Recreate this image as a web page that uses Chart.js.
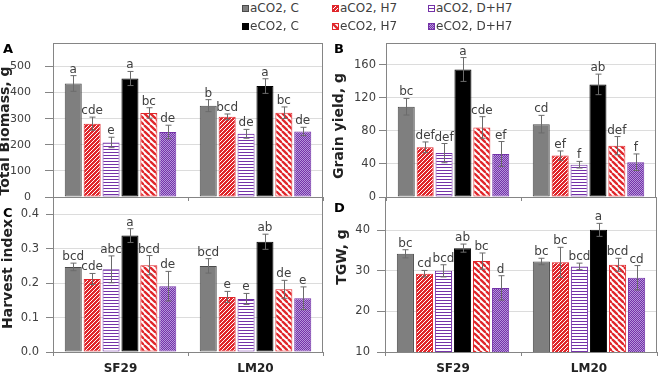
<!DOCTYPE html>
<html>
<head>
<meta charset="utf-8">
<script src="https://cdn.jsdelivr.net/npm/chart.js@4.4.0/dist/chart.umd.min.js"></script>
<style>
    body { margin: 0; background: #fff; }
    #wrap { position: relative; width: 660px; height: 375px; overflow: hidden; font-family: 'DejaVu Sans', sans-serif; color: #404040; }
    canvas.panel { position: absolute; }
    .lg { position: absolute; font-size: 12px; line-height: 14px; white-space: nowrap; }
    .sw { position: absolute; }
    .pl { position: absolute; font-weight: bold; font-size: 13px; line-height: 15px; color: #000; }
</style>
</head>
<body>
<div id="wrap">
    <canvas id="chartA" class="panel"></canvas>
    <canvas id="chartB" class="panel"></canvas>
    <canvas id="chartC" class="panel"></canvas>
    <canvas id="chartD" class="panel"></canvas>
    <div id="legend"></div>
</div>
<script>
const categories = ['SF29', 'LM20'];
const seriesNames = ['aCO2, C', 'aCO2, H7', 'aCO2, D+H7', 'eCO2, C', 'eCO2, H7', 'eCO2, D+H7'];

// one row per series: [SF29, LM20]
const biomassMean = [[435, 350], [281, 307], [209, 242], [454, 425], [322, 323], [249, 251]];
const biomassErr = [[30, 23], [25, 11], [20, 17], [27, 28], [20, 22], [26, 16]];
const biomassLetters = [['a', 'b'], ['cde', 'bcd'], ['e', 'de'], ['a', 'a'], ['bc', 'bc'], ['de', 'de']];
const biomassTicks = [0, 100, 200, 300, 400, 500];

const grainMean = [[109, 88], [60, 50], [53, 39], [154, 136], [84, 62], [52, 42]];
const grainErr = [[10, 10.6], [6.5, 5.6], [11.6, 4], [14.4, 12.4], [13, 11], [15, 10]];
const grainLetters = [['bc', 'cd'], ['def', 'ef'], ['def', 'f'], ['a', 'ab'], ['cde', 'def'], ['ef', 'f']];
const grainTicks = [0, 40, 80, 120, 160];

const hiMean = [[0.247, 0.250], [0.212, 0.160], [0.240, 0.154], [0.338, 0.320], [0.252, 0.182], [0.191, 0.156]];
const hiErr = [[0.011, 0.021], [0.016, 0.016], [0.039, 0.016], [0.020, 0.022], [0.028, 0.026], [0.043, 0.033]];
const hiLetters = [['bcd', 'bcd'], ['cde', 'e'], ['abc', 'e'], ['a', 'ab'], ['bcd', 'de'], ['de', 'e']];
const hiTicks = [0, 0.1, 0.2, 0.3, 0.4];

const tgwMean = [[34.2, 32.3], [29.3, 32.1], [30.0, 31.1], [35.6, 40.1], [32.4, 31.5], [25.8, 28.3]];
const tgwErr = [[1, 0.8], [0.8, 3.7], [1.5, 0.8], [1, 1.6], [2, 1.6], [3, 3]];
const tgwLetters = [['bc', 'bc'], ['cd', 'bc'], ['bcd', 'bcd'], ['ab', 'a'], ['bc', 'bcd'], ['d', 'cd']];
const tgwTicks = [10, 20, 30, 40];

const RED = '#e0262b';
const PURPLE = '#7432a8';

function makePattern(size, draw) {
    const c = document.createElement('canvas');
    c.width = c.height = size;
    const g = c.getContext('2d');
    draw(g, size);
    return g.createPattern(c, 'repeat');
}

const fills = [
    '#7f7f7f',
    makePattern(4, (g) => {
        g.fillStyle = RED; g.fillRect(0, 0, 4, 4);
        g.fillStyle = '#fff';
        [[0, 0], [2, 2], [1, 3], [3, 1]].forEach(p => g.fillRect(p[0], p[1], 1, 1));
    }),
    makePattern(3, (g) => {
        g.fillStyle = '#fff'; g.fillRect(0, 0, 3, 3);
        g.fillStyle = PURPLE; g.fillRect(0, 0, 3, 1);
    }),
    '#000000',
    makePattern(6, (g, s) => {
        g.fillStyle = '#fff'; g.fillRect(0, 0, s, s);
        g.strokeStyle = RED; g.lineWidth = 2.3;
        [-s, 0, s].forEach(o => { g.beginPath(); g.moveTo(o, 0); g.lineTo(o + s, s); g.stroke(); });
    }),
    makePattern(2, (g) => {
        g.fillStyle = '#b596da'; g.fillRect(0, 0, 2, 2);
        g.fillStyle = PURPLE; g.fillRect(0, 0, 1, 1); g.fillRect(1, 1, 1, 1);
    })
];
const borders = ['#4a4a4a', RED, PURPLE, '#000000', RED, PURPLE];

Chart.defaults.font.family = "'DejaVu Sans', sans-serif";
Chart.defaults.font.size = 12;
Chart.defaults.color = '#404040';

const decor = {
    id: 'decor',
    afterDatasetsDraw(chart) {
        const ctx = chart.ctx;
        const y = chart.scales.y;
        ctx.save();
        chart.data.datasets.forEach((ds, i) => {
            const meta = chart.getDatasetMeta(i);
            meta.data.forEach((bar, j) => {
                const x = Math.round(bar.x) + 0.5;
                const top = y.getPixelForValue(ds.data[j] + ds.errors[j]);
                const bot = y.getPixelForValue(ds.data[j] - ds.errors[j]);
                ctx.strokeStyle = '#6b6b6b';
                ctx.lineWidth = 1;
                ctx.beginPath();
                ctx.moveTo(x, top); ctx.lineTo(x, bot);
                ctx.moveTo(x - 3, top); ctx.lineTo(x + 3, top);
                ctx.moveTo(x - 3, bot); ctx.lineTo(x + 3, bot);
                ctx.stroke();
                ctx.fillStyle = '#404040';
                ctx.font = "12px 'DejaVu Sans', sans-serif";
                ctx.textAlign = 'center';
                ctx.textBaseline = 'alphabetic';
                ctx.fillText(ds.letters[j], bar.x, top - 3);
            });
        });
        ctx.restore();
    },
    afterDraw(chart, args, opts) {
        const a = chart.chartArea;
        const ctx = chart.ctx;
        ctx.save();
        ctx.strokeStyle = '#858585';
        ctx.lineWidth = 1;
        ctx.strokeRect(a.left + 0.5, a.top + 0.5, a.right - a.left - 1, a.bottom - a.top);
        // rotated y axis title
        ctx.translate(opts.titleX, opts.titleY);
        ctx.rotate(-Math.PI / 2);
        ctx.fillStyle = '#222';
        ctx.font = "bold 14px 'DejaVu Sans', sans-serif";
        ctx.textAlign = 'center';
        ctx.textBaseline = 'middle';
        ctx.fillText(opts.title, 0, 0);
        ctx.restore();
    }
};

const panels = [
    { id: 'chartA', tag: 'A', title: 'Total Biomass, g', mean: biomassMean, err: biomassErr, letters: biomassLetters,
      ticks: biomassTicks, min: 0, max: 590, fmt: v => v, left: 0, plot: [53, 43, 323, 197], showX: false,
      tickLen: 8, tickPad: 14, tickSize: 11, titleAt: [5, 131], tagPos: [3, 41] },
    { id: 'chartB', tag: 'B', title: 'Grain yield, g', mean: grainMean, err: grainErr, letters: grainLetters,
      ticks: grainTicks, min: 0, max: 186, fmt: v => v, left: 330, plot: [386, 43, 656, 197], showX: false,
      tickLen: 7, tickPad: 3, tickSize: 11.5, titleAt: [339, 126], tagPos: [334, 41] },
    { id: 'chartC', tag: 'C', title: 'Harvest index', mean: hiMean, err: hiErr, letters: hiLetters,
      ticks: hiTicks, min: 0, max: 0.45, fmt: v => v.toFixed(1), left: 0, plot: [53, 197, 323, 352], showX: true,
      tickLen: 7, tickPad: 7, tickSize: 11.5, titleAt: [8, 274], tagPos: [3, 205] },
    { id: 'chartD', tag: 'D', title: 'TGW, g', mean: tgwMean, err: tgwErr, letters: tgwLetters,
      ticks: tgwTicks, min: 10, max: 48.2, fmt: v => v, left: 330, plot: [385, 197, 657, 352], showX: true,
      tickLen: 8, tickPad: 7, tickSize: 11.5, titleAt: [342, 257], tagPos: [334, 200] }
];

const wrap = document.getElementById('wrap');

panels.forEach(p => {
    const [L, T, R, B] = p.plot;
    const axisW = L - p.left;
    const top = T - 26;
    const bottom = p.showX ? 375 : B + 26;
    const xH = p.showX ? 375 - B : 8;
    const canvas = document.getElementById(p.id);
    canvas.width = 330;
    canvas.height = bottom - top;
    canvas.style.left = p.left + 'px';
    canvas.style.top = top + 'px';

    new Chart(canvas.getContext('2d'), {
        type: 'bar',
        data: {
            labels: categories,
            datasets: seriesNames.map((name, i) => ({
                label: name,
                data: p.mean[i],
                errors: p.err[i],
                letters: p.letters[i],
                backgroundColor: fills[i],
                borderColor: borders[i],
                borderWidth: 1,
                borderSkipped: false,
                categoryPercentage: 0.84,
                barPercentage: 0.9
            }))
        },
        options: {
            responsive: false,
            animation: false,
            layout: { padding: { top: 26, right: p.left + 330 - R, bottom: p.showX ? 0 : 18, left: 0 } },
            plugins: {
                legend: { display: false },
                tooltip: { enabled: false },
                decor: { title: p.title, titleX: p.titleAt[0] - p.left, titleY: p.titleAt[1] - top }
            },
            scales: {
                x: {
                    grid: { display: true, drawOnChartArea: false, offset: true, tickLength: 4, tickColor: '#858585' },
                    border: { display: false },
                    ticks: { display: p.showX, padding: 6, color: '#222', font: { weight: 'bold', size: 12 } },
                    afterFit: s => { s.height = xH; }
                },
                y: {
                    min: p.min,
                    max: p.max,
                    grid: { color: '#dcdcdc', tickLength: p.tickLen, tickColor: '#858585' },
                    border: { display: false },
                    ticks: { padding: p.tickPad, color: '#404040', font: { size: p.tickSize }, callback: v => p.fmt(v) },
                    afterBuildTicks: s => { s.ticks = p.ticks.map(v => ({ value: v })); },
                    afterFit: s => { s.width = axisW; }
                }
            }
        },
        plugins: [decor]
    });

    const tag = document.createElement('div');
    tag.className = 'pl';
    tag.textContent = p.tag;
    tag.style.left = p.tagPos[0] + 'px';
    tag.style.top = p.tagPos[1] + 'px';
    wrap.appendChild(tag);
});

// legend: 3 columns x 2 rows
const legend = document.getElementById('legend');
const swatchX = [242, 332, 428];
const rowTop = [1, 19];
seriesNames.forEach((name, i) => {
    const col = i % 3;
    const row = Math.floor(i / 3);
    const sw = document.createElement('canvas');
    sw.className = 'sw';
    sw.width = 7; sw.height = 7;
    sw.style.left = swatchX[col] + 'px';
    sw.style.top = (rowTop[row] + 4) + 'px';
    const g = sw.getContext('2d');
    g.fillStyle = fills[i];
    g.fillRect(0, 0, 7, 7);
    g.strokeStyle = borders[i];
    g.lineWidth = 1;
    g.strokeRect(0.5, 0.5, 6, 6);
    legend.appendChild(sw);

    const txt = document.createElement('div');
    txt.className = 'lg';
    txt.textContent = name;
    txt.style.left = (swatchX[col] + 8) + 'px';
    txt.style.top = rowTop[row] + 'px';
    legend.appendChild(txt);
});
</script>
</body>
</html>
